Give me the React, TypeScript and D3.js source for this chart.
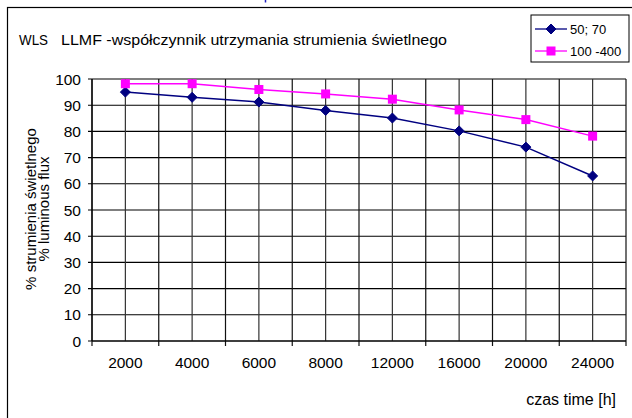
import * as d3 from "d3";

const categories = ["2000", "4000", "6000", "8000", "12000", "16000", "20000", "24000"];
const series5070 = [95, 93, 91.2, 88, 85.1, 80.2, 74, 63];
const series100400 = [98.2, 98.2, 96, 94.3, 92.3, 88.2, 84.5, 78.2];
const yTicks = [0, 10, 20, 30, 40, 50, 60, 70, 80, 90, 100];

const seriesList = [
  { name: "50; 70", values: series5070, color: "#000080", marker: "diamond" },
  { name: "100 -400", values: series100400, color: "#FF00FF", marker: "square" },
];

const FONT = "'Liberation Sans', Arial, sans-serif";

export default function App() {
  const width = 632;
  const height = 418;
  const margin = { top: 79, right: 6, bottom: 77, left: 92 };
  const boundsWidth = width - margin.left - margin.right;
  const boundsHeight = height - margin.top - margin.bottom;

  const xScale = d3.scaleBand().domain(categories).range([0, boundsWidth]).padding(0);
  const yScale = d3.scaleLinear().domain([0, 100]).range([boundsHeight, 0]);
  const bw = xScale.bandwidth();
  const center = (c: string) => (xScale(c) ?? 0) + bw / 2;

  const lineGen = d3
    .line<number>()
    .x((_, i) => center(categories[i]))
    .y((d) => yScale(d));

  const drawMarker = (kind: string, x: number, y: number, color: string, key: string | number) =>
    kind === "diamond" ? (
      <path
        key={key}
        d={`M${x},${y - 5}L${x + 5},${y}L${x},${y + 5}L${x - 5},${y}Z`}
        fill={color}
        stroke={color}
      />
    ) : (
      <rect key={key} x={x - 4.5} y={y - 4.5} width={9} height={9} fill={color} />
    );

  const boundaries = categories.map((c) => xScale(c) ?? 0).concat([boundsWidth]);

  return (
    <svg
      width={width}
      height={height}
      style={{ position: "absolute", left: 0, top: 0, background: "#fff" }}
      fontFamily={FONT}
    >
      {/* outer chart frame, running off the right and bottom edges */}
      <rect x={7.5} y={7.5} width={640} height={430} fill="none" stroke="#000" strokeWidth={1.2} />
      <line x1={265.5} x2={265.5} y1={0} y2={2.5} stroke="#2020c0" strokeWidth={1.5} />

      <text x={19} y={45} fontSize={14.5} fill="#000" textLength={29} lengthAdjust="spacingAndGlyphs">
        WLS
      </text>
      <text x={61} y={45} fontSize={14.5} fill="#000" textLength={386} lengthAdjust="spacingAndGlyphs">
        LLMF -współczynnik utrzymania strumienia świetlnego
      </text>

      {/* legend */}
      <g transform="translate(531,15)">
        <rect x={0} y={0} width={98} height={47} fill="#fff" stroke="#000" strokeWidth={1} />
        {seriesList.map((s, i) => {
          const y = 14 + i * 22;
          return (
            <g key={s.name}>
              <line x1={4} x2={36} y1={y} y2={y} stroke={s.color} strokeWidth={1.3} />
              {drawMarker(s.marker, 20, y, s.color, "m")}
              <text x={39} y={y + 4.5} fontSize={13} fill="#000">
                {s.name}
              </text>
            </g>
          );
        })}
      </g>

      <g transform={`translate(${margin.left},${margin.top})`}>
        {/* horizontal gridlines and y ticks */}
        {yTicks.map((t) => (
          <g key={t}>
            <line x1={-4} x2={boundsWidth} y1={yScale(t)} y2={yScale(t)} stroke="#000" strokeWidth={1.1} />
            <text x={-11} y={yScale(t) + 5.5} fontSize={15.5} textAnchor="end" fill="#000">
              {t}
            </text>
          </g>
        ))}
        {/* vertical gridlines at category boundaries and centres */}
        {boundaries.map((x, i) => (
          <line key={"b" + i} x1={x} x2={x} y1={0} y2={boundsHeight + 5} stroke="#111" strokeWidth={1.2} />
        ))}
        {categories.map((c) => (
          <line key={"c" + c} x1={center(c)} x2={center(c)} y1={0} y2={boundsHeight} stroke="#333" strokeWidth={1.2} />
        ))}
        <line x1={0} x2={boundsWidth} y1={boundsHeight} y2={boundsHeight} stroke="#000" strokeWidth={1.2} />
        <line x1={0} x2={0} y1={0} y2={boundsHeight} stroke="#000" strokeWidth={1.2} />

        {categories.map((c) => (
          <text key={"l" + c} x={center(c)} y={boundsHeight + 27} fontSize={15.5} textAnchor="middle" fill="#000">
            {c}
          </text>
        ))}

        {seriesList.map((s) => (
          <g key={s.name}>
            <path d={lineGen(s.values) ?? ""} fill="none" stroke={s.color} strokeWidth={1.5} />
            {s.values.map((v, i) => drawMarker(s.marker, center(categories[i]), yScale(v), s.color, i))}
          </g>
        ))}
      </g>

      <text x={616} y={405} fontSize={16} textAnchor="end" fill="#000">
        czas time [h]
      </text>

      <g transform="translate(0,209) rotate(-90)">
        <text x={0} y={36} fontSize={15} textAnchor="middle" fill="#000">
          % strumienia świetlnego
        </text>
        <text x={0} y={49} fontSize={15} textAnchor="middle" fill="#000">
          % luminous flux
        </text>
      </g>
    </svg>
  );
}
